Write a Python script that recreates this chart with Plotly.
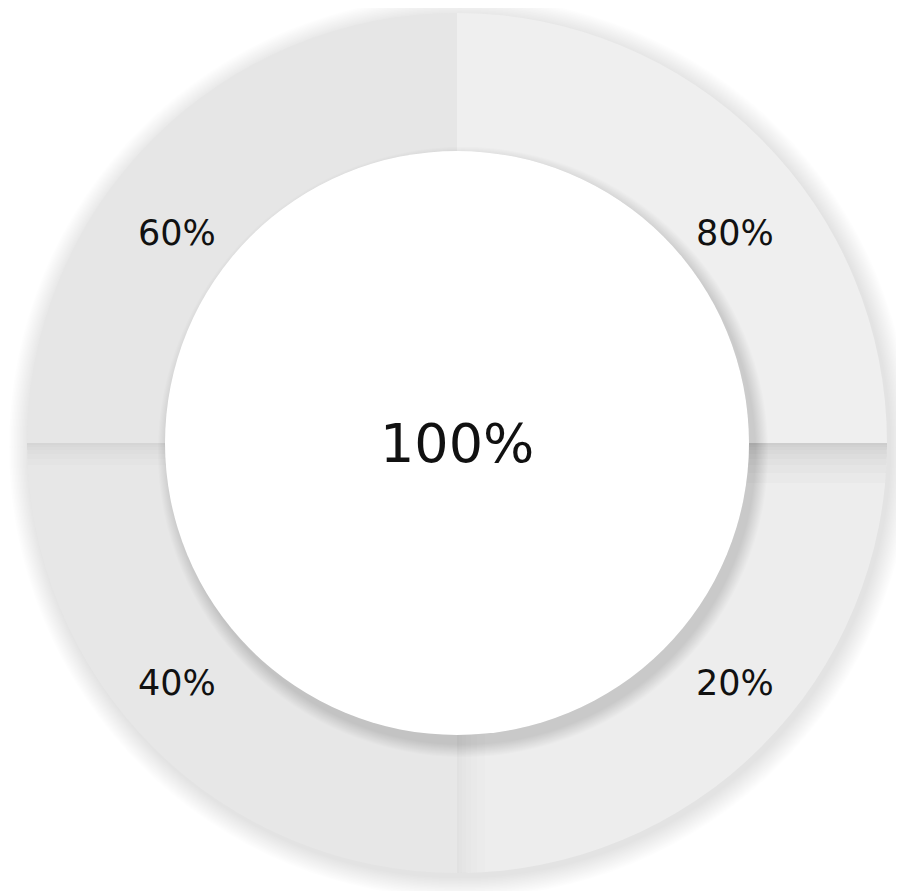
import math
import plotly.graph_objects as go

# ---- data ----
segment_labels = ["80%", "20%", "40%", "60%"]   # clockwise from 12 o'clock
segment_values = [25, 25, 25, 25]
segment_colors = ["#efefef", "#ededed", "#e7e7e7", "#e6e6e6"]
center_label = "100%"

# ---- geometry (pixels, relative to the plot div) ----
W, H = 904, 891
CX, CY = 449, 435
R_OUT, R_IN = 430, 292

fig = go.Figure()

fig.add_trace(go.Pie(
    values=segment_values,
    labels=segment_labels,
    marker=dict(colors=segment_colors, line=dict(width=0)),
    hole=R_IN / R_OUT,
    sort=False,
    direction="clockwise",
    rotation=0,
    textinfo="none",
    hoverinfo="label",
    showlegend=False,
    domain=dict(x=[(CX - R_OUT) / W, (CX + R_OUT) / W],
                y=[(H - CY - R_OUT) / H, (H - CY + R_OUT) / H]),
))

shapes = []

def circle(cx, cy, r, fill, layer):
    return dict(type="circle", xref="x", yref="y", x0=cx - r, x1=cx + r,
                y0=cy - r, y1=cy + r, fillcolor=fill, line=dict(width=0), layer=layer)

# outer soft halo
for i in range(14, 0, -1):
    shapes.append(circle(CX + 3, CY + 4, R_OUT + i * 1.5, "rgba(0,0,0,0.008)", "below"))

# seam shadow bands
def band_path(axis, sign_x, sign_y, w):
    n = 12
    if axis == "h":
        ys = [i * w / n for i in range(n + 1)]
        outer = [(CX + sign_x * math.sqrt(R_OUT**2 - y**2), CY + sign_y * y) for y in ys]
        inner = [(CX + sign_x * math.sqrt(R_IN**2 - y**2), CY + sign_y * y) for y in ys]
    else:
        xs = [i * w / n for i in range(n + 1)]
        outer = [(CX + sign_x * x, CY + sign_y * math.sqrt(R_OUT**2 - x**2)) for x in xs]
        inner = [(CX + sign_x * x, CY + sign_y * math.sqrt(R_IN**2 - x**2)) for x in xs]
    pts = inner + outer[::-1]
    return "M " + " L ".join(f"{x:.1f},{y:.1f}" for x, y in pts) + " Z"

def add_band(axis, sx, sy, widths, alpha):
    for w in widths:
        shapes.append(dict(type="path", xref="x", yref="y", path=band_path(axis, sx, sy, w),
                           fillcolor=f"rgba(0,0,0,{alpha})", line=dict(width=0), layer="above"))

add_band("h", 1, 1, [2, 4, 7, 11, 16, 22, 30, 40], 0.016)  # right seam
add_band("h", -1, 1, [2, 4, 7, 11, 16, 22], 0.010)         # left seam
add_band("v", 1, 1, [2, 5, 9, 14, 20, 28], 0.008)          # bottom seam

# inner circle shadow (mostly toward bottom-right)
for i in range(12, 0, -1):
    shapes.append(circle(CX + 6, CY + 9, R_IN + i * 1.1, "rgba(0,0,0,0.010)", "above"))
shapes.append(circle(CX, CY, R_IN, "#ffffff", "above"))

annotations = []
label_pos = [(727, 225), (727, 675), (169, 675), (169, 225)]
for txt, (x, y) in zip(segment_labels, label_pos):
    annotations.append(dict(x=x, y=y, xref="x", yref="y", text=txt, showarrow=False,
                            font=dict(family="DejaVu Sans", size=35, color="#111111")))
annotations.append(dict(x=CX, y=CY, xref="x", yref="y", text=center_label, showarrow=False,
                        font=dict(family="DejaVu Sans", size=54, color="#111111")))

fig.update_layout(
    width=W, height=H,
    margin=dict(l=0, r=0, t=0, b=0),
    paper_bgcolor="white", plot_bgcolor="white",
    xaxis=dict(range=[0, W], visible=False, fixedrange=True),
    yaxis=dict(range=[H, 0], visible=False, fixedrange=True),
    shapes=shapes,
    annotations=annotations,
)

fig.write_html("out.html")
